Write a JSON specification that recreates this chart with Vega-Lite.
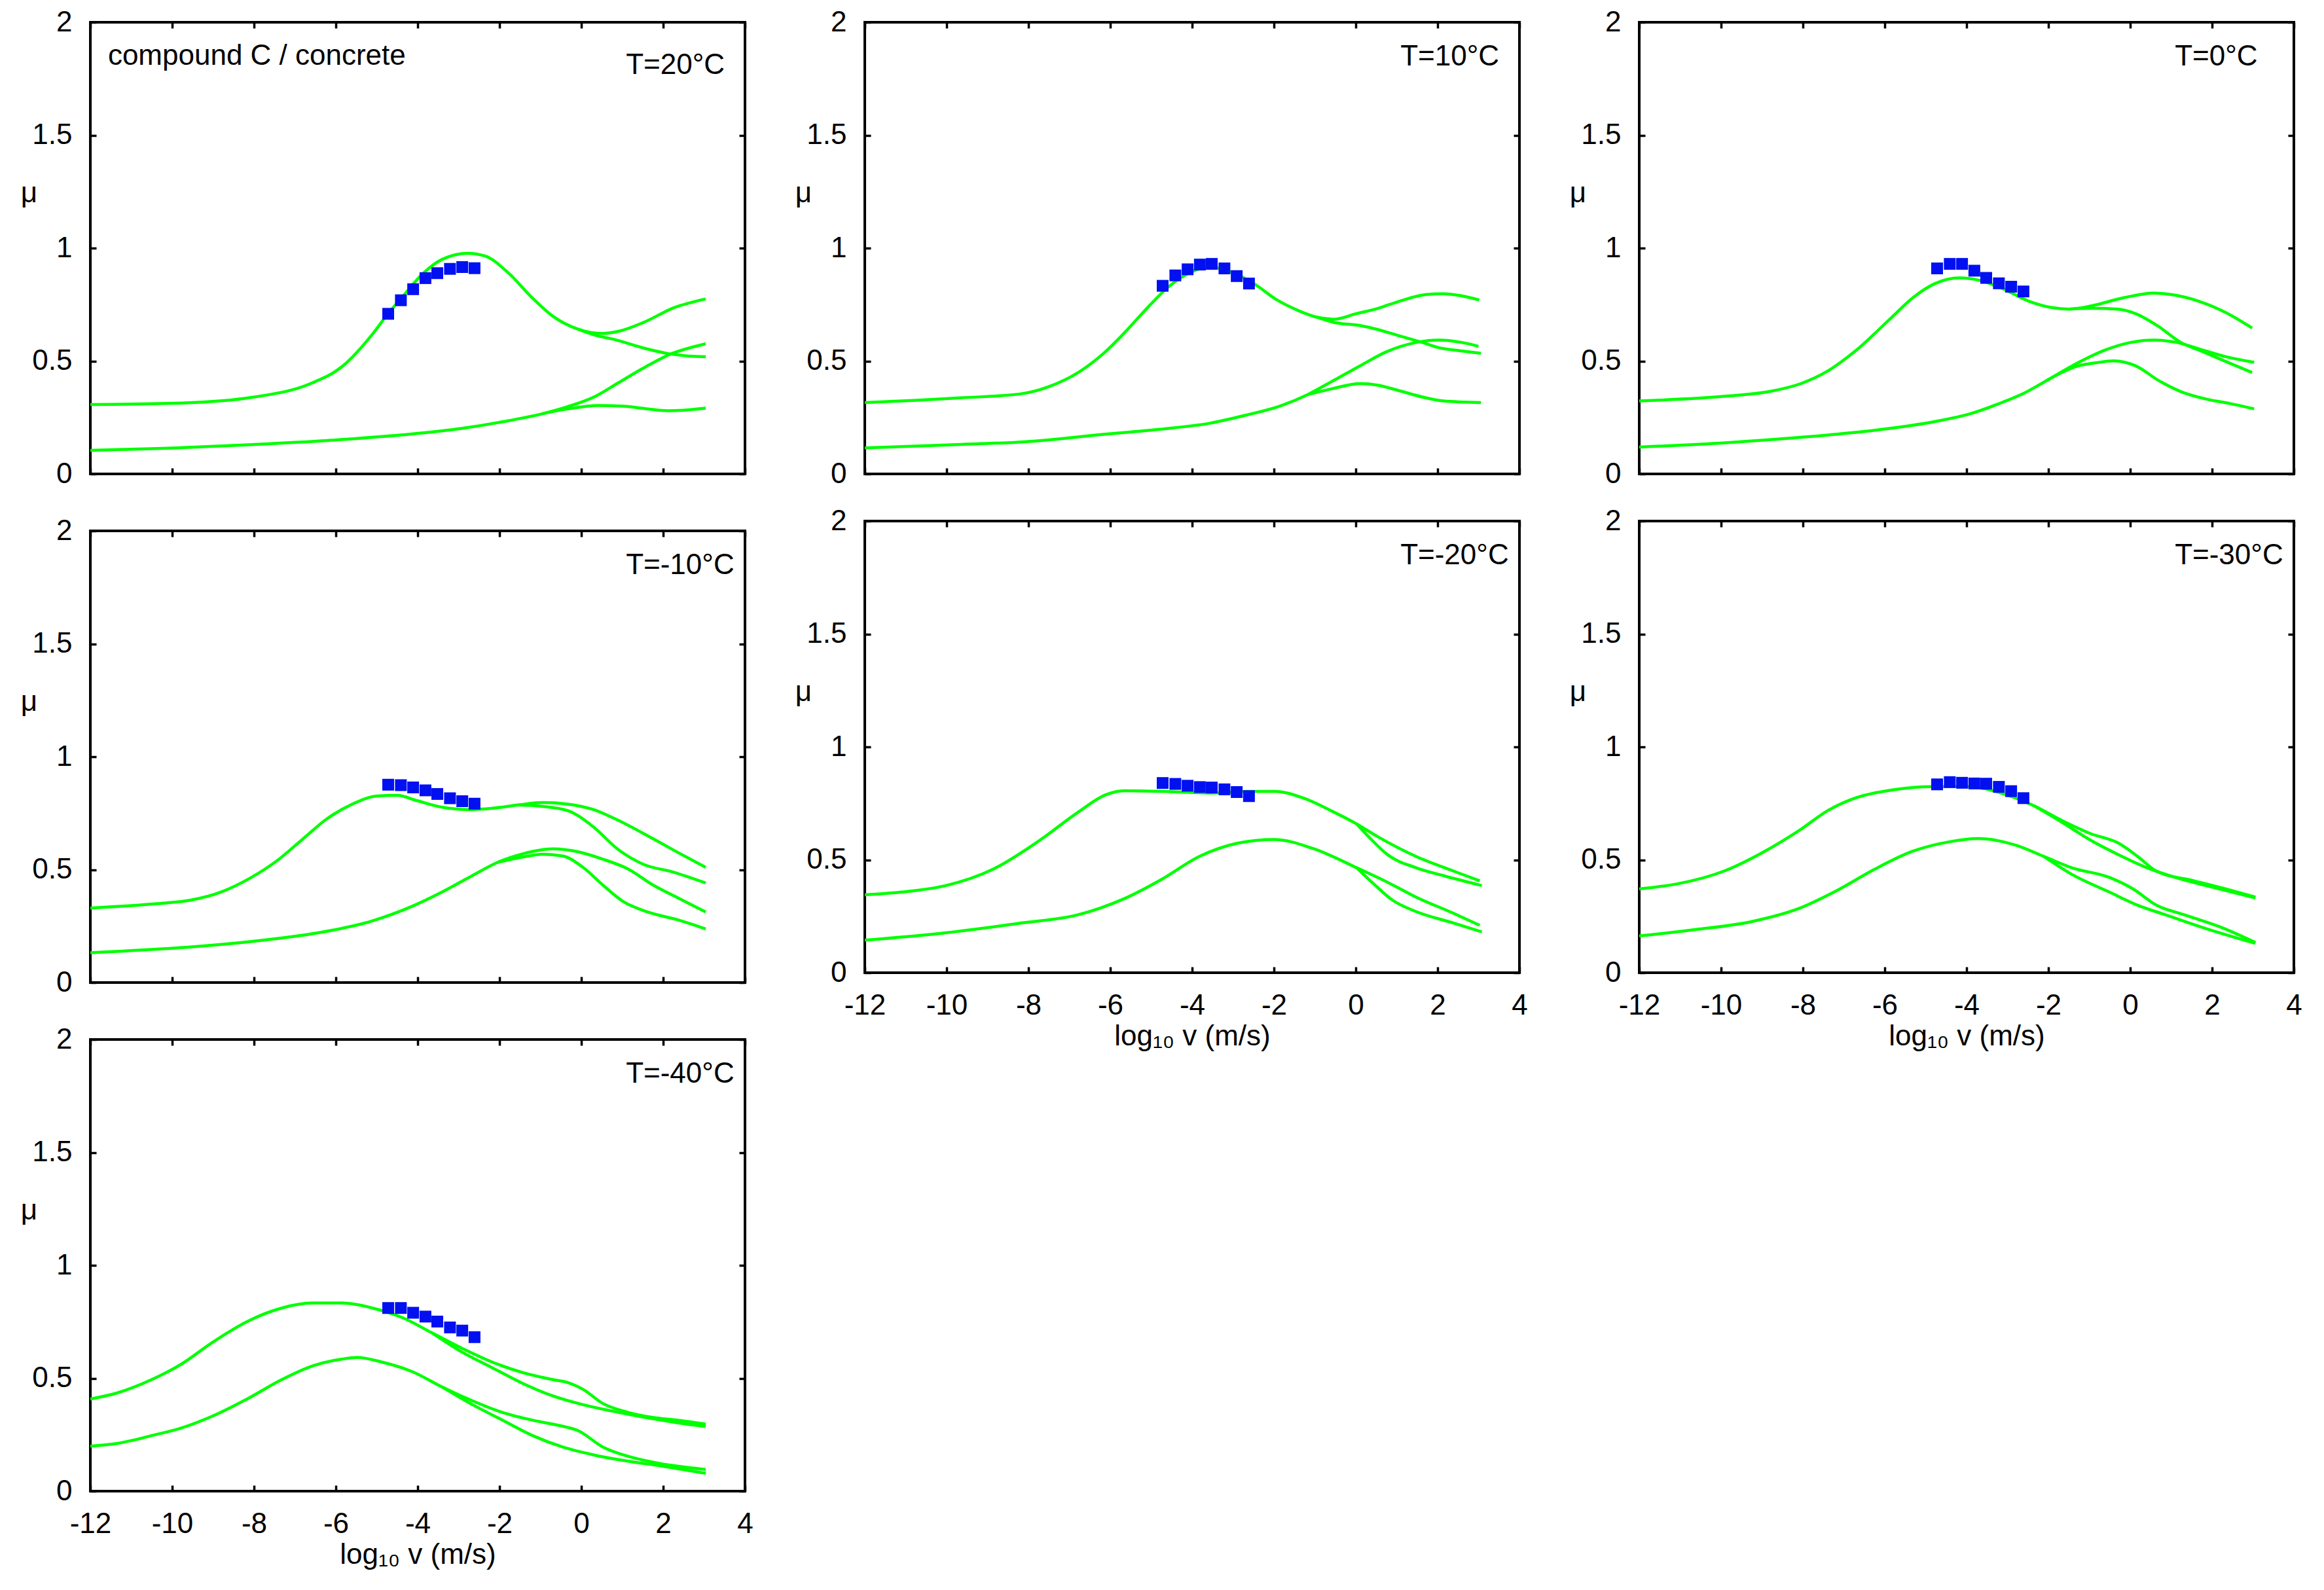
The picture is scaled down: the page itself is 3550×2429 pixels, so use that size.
{
  "$schema": "https://vega.github.io/schema/vega-lite/v6.json",
  "padding": {"left": 29, "top": 10, "right": 10, "bottom": 10},
  "background": "white",
  "datasets": {
    "curves": [
      {"T":"20","s":"a","x":-12,"y":0.307},{"T":"20","s":"a","x":-9.77,"y":0.314},{"T":"20","s":"a","x":-8.05,"y":0.339},{"T":"20","s":"a","x":-6.58,"y":0.403},{"T":"20","s":"a","x":-5.85,"y":0.475},{"T":"20","s":"a","x":-5.1,"y":0.62},{"T":"20","s":"a","x":-4.74,"y":0.706},{"T":"20","s":"a","x":-4.37,"y":0.785},{"T":"20","s":"a","x":-3.88,"y":0.886},{"T":"20","s":"a","x":-3.39,"y":0.951},{"T":"20","s":"a","x":-2.78,"y":0.977},{"T":"20","s":"a","x":-2.35,"y":0.965},{"T":"20","s":"a","x":-1.8,"y":0.893},{"T":"20","s":"a","x":-1.19,"y":0.778},{"T":"20","s":"a","x":-0.7,"y":0.699},{"T":"20","s":"a","x":-0.08,"y":0.641},{"T":"20","s":"a","x":0.53,"y":0.622},{"T":"20","s":"a","x":0.9,"y":0.631},{"T":"20","s":"a","x":1.51,"y":0.67},{"T":"20","s":"a","x":2.25,"y":0.735},{"T":"20","s":"a","x":3.04,"y":0.775},
      {"T":"20","s":"b","x":-0.08,"y":0.641},{"T":"20","s":"b","x":0.29,"y":0.617},{"T":"20","s":"b","x":0.9,"y":0.591},{"T":"20","s":"b","x":1.51,"y":0.558},{"T":"20","s":"b","x":2.12,"y":0.533},{"T":"20","s":"b","x":2.62,"y":0.522},{"T":"20","s":"b","x":3.04,"y":0.519},
      {"T":"20","s":"c","x":-12,"y":0.104},{"T":"20","s":"c","x":-9.9,"y":0.115},{"T":"20","s":"c","x":-8.05,"y":0.13},{"T":"20","s":"c","x":-6.21,"y":0.148},{"T":"20","s":"c","x":-4.37,"y":0.173},{"T":"20","s":"c","x":-2.9,"y":0.202},{"T":"20","s":"c","x":-1.92,"y":0.231},{"T":"20","s":"c","x":-0.94,"y":0.267},{"T":"20","s":"c","x":-0.33,"y":0.298},{"T":"20","s":"c","x":0.29,"y":0.339},{"T":"20","s":"c","x":0.9,"y":0.403},{"T":"20","s":"c","x":1.51,"y":0.468},{"T":"20","s":"c","x":2.12,"y":0.526},{"T":"20","s":"c","x":3.04,"y":0.576},
      {"T":"20","s":"d","x":-0.94,"y":0.267},{"T":"20","s":"d","x":-0.33,"y":0.288},{"T":"20","s":"d","x":0.41,"y":0.303},{"T":"20","s":"d","x":1.02,"y":0.3},{"T":"20","s":"d","x":1.63,"y":0.288},{"T":"20","s":"d","x":2.12,"y":0.28},{"T":"20","s":"d","x":2.49,"y":0.282},{"T":"20","s":"d","x":3.04,"y":0.291},

      {"T":"10","s":"a","x":-12,"y":0.316},{"T":"10","s":"a","x":-10.73,"y":0.326},{"T":"10","s":"a","x":-9.66,"y":0.337},{"T":"10","s":"a","x":-8.21,"y":0.354},{"T":"10","s":"a","x":-7.51,"y":0.386},{"T":"10","s":"a","x":-6.76,"y":0.452},{"T":"10","s":"a","x":-6.12,"y":0.541},{"T":"10","s":"a","x":-5.69,"y":0.618},{"T":"10","s":"a","x":-5.05,"y":0.744},{"T":"10","s":"a","x":-4.62,"y":0.822},{"T":"10","s":"a","x":-4.19,"y":0.878},{"T":"10","s":"a","x":-3.76,"y":0.91},{"T":"10","s":"a","x":-3.44,"y":0.913},{"T":"10","s":"a","x":-3.01,"y":0.892},{"T":"10","s":"a","x":-2.47,"y":0.84},{"T":"10","s":"a","x":-1.94,"y":0.772},{"T":"10","s":"a","x":-1.4,"y":0.723},{"T":"10","s":"a","x":-0.97,"y":0.695},{"T":"10","s":"a","x":-0.54,"y":0.685},{"T":"10","s":"a","x":0,"y":0.709},{"T":"10","s":"a","x":0.54,"y":0.733},{"T":"10","s":"a","x":1.07,"y":0.765},{"T":"10","s":"a","x":1.71,"y":0.794},{"T":"10","s":"a","x":2.14,"y":0.798},{"T":"10","s":"a","x":2.57,"y":0.789},{"T":"10","s":"a","x":3.02,"y":0.77},
      {"T":"10","s":"b","x":-0.97,"y":0.695},{"T":"10","s":"b","x":-0.54,"y":0.671},{"T":"10","s":"b","x":0.1,"y":0.657},{"T":"10","s":"b","x":0.54,"y":0.639},{"T":"10","s":"b","x":1.07,"y":0.611},{"T":"10","s":"b","x":1.61,"y":0.583},{"T":"10","s":"b","x":2.03,"y":0.559},{"T":"10","s":"b","x":2.57,"y":0.545},{"T":"10","s":"b","x":3.06,"y":0.534},
      {"T":"10","s":"c","x":-12,"y":0.115},{"T":"10","s":"c","x":-9.88,"y":0.129},{"T":"10","s":"c","x":-8.05,"y":0.143},{"T":"10","s":"c","x":-6.12,"y":0.176},{"T":"10","s":"c","x":-4.83,"y":0.197},{"T":"10","s":"c","x":-3.55,"y":0.225},{"T":"10","s":"c","x":-2.69,"y":0.26},{"T":"10","s":"c","x":-1.83,"y":0.302},{"T":"10","s":"c","x":-1.18,"y":0.351},{"T":"10","s":"c","x":-0.54,"y":0.414},{"T":"10","s":"c","x":0.1,"y":0.478},{"T":"10","s":"c","x":0.75,"y":0.541},{"T":"10","s":"c","x":1.5,"y":0.583},{"T":"10","s":"c","x":2.03,"y":0.593},{"T":"10","s":"c","x":2.57,"y":0.583},{"T":"10","s":"c","x":3.0,"y":0.565},
      {"T":"10","s":"d","x":-1.18,"y":0.351},{"T":"10","s":"d","x":-0.54,"y":0.379},{"T":"10","s":"d","x":0.1,"y":0.4},{"T":"10","s":"d","x":0.54,"y":0.393},{"T":"10","s":"d","x":1.07,"y":0.368},{"T":"10","s":"d","x":1.71,"y":0.337},{"T":"10","s":"d","x":2.14,"y":0.323},{"T":"10","s":"d","x":3.06,"y":0.316},

      {"T":"0","s":"a","x":-12,"y":0.323},{"T":"0","s":"a","x":-9.9,"y":0.344},{"T":"0","s":"a","x":-8.81,"y":0.365},{"T":"0","s":"a","x":-8.05,"y":0.4},{"T":"0","s":"a","x":-7.39,"y":0.456},{"T":"0","s":"a","x":-6.74,"y":0.541},{"T":"0","s":"a","x":-5.86,"y":0.688},{"T":"0","s":"a","x":-5.32,"y":0.779},{"T":"0","s":"a","x":-4.77,"y":0.843},{"T":"0","s":"a","x":-4.17,"y":0.868},{"T":"0","s":"a","x":-3.68,"y":0.857},{"T":"0","s":"a","x":-3.14,"y":0.822},{"T":"0","s":"a","x":-2.48,"y":0.765},{"T":"0","s":"a","x":-1.93,"y":0.737},{"T":"0","s":"a","x":-1.5,"y":0.73},{"T":"0","s":"a","x":-0.95,"y":0.744},{"T":"0","s":"a","x":-0.19,"y":0.779},{"T":"0","s":"a","x":0.58,"y":0.801},{"T":"0","s":"a","x":1.01,"y":0.794},{"T":"0","s":"a","x":1.67,"y":0.765},{"T":"0","s":"a","x":2.32,"y":0.716},{"T":"0","s":"a","x":2.98,"y":0.646},
      {"T":"0","s":"b","x":-1.5,"y":0.73},{"T":"0","s":"b","x":-0.95,"y":0.733},{"T":"0","s":"b","x":-0.3,"y":0.73},{"T":"0","s":"b","x":0.14,"y":0.709},{"T":"0","s":"b","x":0.69,"y":0.653},{"T":"0","s":"b","x":1.23,"y":0.583},{"T":"0","s":"b","x":1.78,"y":0.541},{"T":"0","s":"b","x":2.32,"y":0.499},{"T":"0","s":"b","x":2.98,"y":0.449},
      {"T":"0","s":"c","x":-12,"y":0.119},{"T":"0","s":"c","x":-9.9,"y":0.138},{"T":"0","s":"c","x":-8.05,"y":0.162},{"T":"0","s":"c","x":-6.08,"y":0.197},{"T":"0","s":"c","x":-4.77,"y":0.232},{"T":"0","s":"c","x":-3.9,"y":0.267},{"T":"0","s":"c","x":-3.14,"y":0.316},{"T":"0","s":"c","x":-2.59,"y":0.358},{"T":"0","s":"c","x":-2.04,"y":0.414},{"T":"0","s":"c","x":-1.28,"y":0.492},{"T":"0","s":"c","x":-0.62,"y":0.548},{"T":"0","s":"c","x":0.03,"y":0.583},{"T":"0","s":"c","x":0.58,"y":0.593},{"T":"0","s":"c","x":1.12,"y":0.583},{"T":"0","s":"c","x":1.78,"y":0.548},{"T":"0","s":"c","x":2.32,"y":0.52},{"T":"0","s":"c","x":3.03,"y":0.494},
      {"T":"0","s":"d","x":-2.04,"y":0.414},{"T":"0","s":"d","x":-1.28,"y":0.478},{"T":"0","s":"d","x":-0.84,"y":0.492},{"T":"0","s":"d","x":-0.41,"y":0.501},{"T":"0","s":"d","x":0.14,"y":0.478},{"T":"0","s":"d","x":0.69,"y":0.414},{"T":"0","s":"d","x":1.23,"y":0.365},{"T":"0","s":"d","x":1.89,"y":0.33},{"T":"0","s":"d","x":2.43,"y":0.312},{"T":"0","s":"d","x":3.03,"y":0.288},

      {"T":"-10","s":"a","x":-12,"y":0.33},{"T":"-10","s":"a","x":-10.38,"y":0.349},{"T":"-10","s":"a","x":-9.52,"y":0.366},{"T":"-10","s":"a","x":-8.79,"y":0.402},{"T":"-10","s":"a","x":-8.05,"y":0.467},{"T":"-10","s":"a","x":-7.44,"y":0.539},{"T":"-10","s":"a","x":-6.83,"y":0.632},{"T":"-10","s":"a","x":-6.21,"y":0.726},{"T":"-10","s":"a","x":-5.6,"y":0.79},{"T":"-10","s":"a","x":-4.99,"y":0.826},{"T":"-10","s":"a","x":-4.5,"y":0.829},{"T":"-10","s":"a","x":-4.01,"y":0.805},{"T":"-10","s":"a","x":-3.39,"y":0.776},{"T":"-10","s":"a","x":-2.78,"y":0.766},{"T":"-10","s":"a","x":-2.17,"y":0.772},{"T":"-10","s":"a","x":-1.55,"y":0.786},{"T":"-10","s":"a","x":-0.94,"y":0.797},{"T":"-10","s":"a","x":-0.33,"y":0.79},{"T":"-10","s":"a","x":0.29,"y":0.766},{"T":"-10","s":"a","x":0.78,"y":0.729},{"T":"-10","s":"a","x":1.76,"y":0.636},{"T":"-10","s":"a","x":2.37,"y":0.575},{"T":"-10","s":"a","x":3.04,"y":0.51},
      {"T":"-10","s":"b","x":-1.55,"y":0.786},{"T":"-10","s":"b","x":-0.94,"y":0.78},{"T":"-10","s":"b","x":-0.33,"y":0.761},{"T":"-10","s":"b","x":0.29,"y":0.69},{"T":"-10","s":"b","x":0.9,"y":0.589},{"T":"-10","s":"b","x":1.51,"y":0.524},{"T":"-10","s":"b","x":2.25,"y":0.489},{"T":"-10","s":"b","x":3.04,"y":0.441},
      {"T":"-10","s":"c","x":-12,"y":0.132},{"T":"-10","s":"c","x":-9.52,"y":0.158},{"T":"-10","s":"c","x":-7.81,"y":0.187},{"T":"-10","s":"c","x":-6.34,"y":0.223},{"T":"-10","s":"c","x":-5.11,"y":0.273},{"T":"-10","s":"c","x":-4.13,"y":0.338},{"T":"-10","s":"c","x":-3.39,"y":0.402},{"T":"-10","s":"c","x":-2.66,"y":0.474},{"T":"-10","s":"c","x":-2.05,"y":0.532},{"T":"-10","s":"c","x":-1.43,"y":0.57},{"T":"-10","s":"c","x":-0.7,"y":0.592},{"T":"-10","s":"c","x":-0.08,"y":0.579},{"T":"-10","s":"c","x":0.53,"y":0.546},{"T":"-10","s":"c","x":1.14,"y":0.503},{"T":"-10","s":"c","x":1.76,"y":0.431},{"T":"-10","s":"c","x":2.37,"y":0.374},{"T":"-10","s":"c","x":3.04,"y":0.312},
      {"T":"-10","s":"d","x":-2.05,"y":0.532},{"T":"-10","s":"d","x":-1.43,"y":0.556},{"T":"-10","s":"d","x":-0.94,"y":0.568},{"T":"-10","s":"d","x":-0.45,"y":0.56},{"T":"-10","s":"d","x":0.04,"y":0.51},{"T":"-10","s":"d","x":0.53,"y":0.431},{"T":"-10","s":"d","x":1.02,"y":0.359},{"T":"-10","s":"d","x":1.63,"y":0.312},{"T":"-10","s":"d","x":2.37,"y":0.277},{"T":"-10","s":"d","x":3.04,"y":0.237},

      {"T":"-20","s":"a","x":-12,"y":0.345},{"T":"-20","s":"a","x":-10.94,"y":0.36},{"T":"-20","s":"a","x":-10.02,"y":0.386},{"T":"-20","s":"a","x":-8.87,"y":0.458},{"T":"-20","s":"a","x":-7.72,"y":0.587},{"T":"-20","s":"a","x":-6.8,"y":0.709},{"T":"-20","s":"a","x":-6.11,"y":0.788},{"T":"-20","s":"a","x":-5.66,"y":0.806},{"T":"-20","s":"a","x":-4.74,"y":0.803},{"T":"-20","s":"a","x":-3.59,"y":0.796},{"T":"-20","s":"a","x":-2.67,"y":0.803},{"T":"-20","s":"a","x":-1.98,"y":0.803},{"T":"-20","s":"a","x":-1.29,"y":0.774},{"T":"-20","s":"a","x":-0.6,"y":0.717},{"T":"-20","s":"a","x":0.02,"y":0.659},{"T":"-20","s":"a","x":0.55,"y":0.601},{"T":"-20","s":"a","x":1.47,"y":0.515},{"T":"-20","s":"a","x":2.39,"y":0.45},{"T":"-20","s":"a","x":3.03,"y":0.407},
      {"T":"-20","s":"b","x":0.02,"y":0.659},{"T":"-20","s":"b","x":0.32,"y":0.601},{"T":"-20","s":"b","x":0.78,"y":0.522},{"T":"-20","s":"b","x":1.47,"y":0.465},{"T":"-20","s":"b","x":2.16,"y":0.429},{"T":"-20","s":"b","x":3.08,"y":0.386},
      {"T":"-20","s":"c","x":-12,"y":0.144},{"T":"-20","s":"c","x":-10.02,"y":0.177},{"T":"-20","s":"c","x":-8.18,"y":0.22},{"T":"-20","s":"c","x":-6.8,"y":0.256},{"T":"-20","s":"c","x":-5.66,"y":0.328},{"T":"-20","s":"c","x":-4.74,"y":0.414},{"T":"-20","s":"c","x":-3.82,"y":0.515},{"T":"-20","s":"c","x":-2.9,"y":0.573},{"T":"-20","s":"c","x":-2.0,"y":0.59},{"T":"-20","s":"c","x":-1.06,"y":0.551},{"T":"-20","s":"c","x":0.02,"y":0.465},{"T":"-20","s":"c","x":0.78,"y":0.4},{"T":"-20","s":"c","x":1.47,"y":0.335},{"T":"-20","s":"c","x":2.39,"y":0.263},{"T":"-20","s":"c","x":3.03,"y":0.21},
      {"T":"-20","s":"d","x":0.02,"y":0.465},{"T":"-20","s":"d","x":0.44,"y":0.393},{"T":"-20","s":"d","x":0.9,"y":0.321},{"T":"-20","s":"d","x":1.47,"y":0.271},{"T":"-20","s":"d","x":2.39,"y":0.22},{"T":"-20","s":"d","x":3.08,"y":0.181},

      {"T":"-30","s":"a","x":-12,"y":0.371},{"T":"-30","s":"a","x":-11.08,"y":0.393},{"T":"-30","s":"a","x":-9.93,"y":0.45},{"T":"-30","s":"a","x":-9.01,"y":0.53},{"T":"-30","s":"a","x":-8.09,"y":0.63},{"T":"-30","s":"a","x":-7.4,"y":0.717},{"T":"-30","s":"a","x":-6.71,"y":0.774},{"T":"-30","s":"a","x":-5.79,"y":0.81},{"T":"-30","s":"a","x":-4.87,"y":0.824},{"T":"-30","s":"a","x":-3.95,"y":0.824},{"T":"-30","s":"a","x":-3.03,"y":0.788},{"T":"-30","s":"a","x":-2.34,"y":0.738},{"T":"-30","s":"a","x":-1.66,"y":0.673},{"T":"-30","s":"a","x":-0.97,"y":0.616},{"T":"-30","s":"a","x":-0.28,"y":0.573},{"T":"-30","s":"a","x":0.18,"y":0.515},{"T":"-30","s":"a","x":0.64,"y":0.45},{"T":"-30","s":"a","x":1.56,"y":0.407},{"T":"-30","s":"a","x":2.48,"y":0.364},{"T":"-30","s":"a","x":3.06,"y":0.335},
      {"T":"-30","s":"b","x":-2.34,"y":0.738},{"T":"-30","s":"b","x":-1.66,"y":0.665},{"T":"-30","s":"b","x":-0.97,"y":0.587},{"T":"-30","s":"b","x":-0.28,"y":0.522},{"T":"-30","s":"b","x":0.41,"y":0.465},{"T":"-30","s":"b","x":1.1,"y":0.422},{"T":"-30","s":"b","x":2.02,"y":0.378},{"T":"-30","s":"b","x":3.06,"y":0.331},
      {"T":"-30","s":"c","x":-12,"y":0.163},{"T":"-30","s":"c","x":-10.62,"y":0.191},{"T":"-30","s":"c","x":-9.24,"y":0.227},{"T":"-30","s":"c","x":-8.09,"y":0.285},{"T":"-30","s":"c","x":-7.17,"y":0.364},{"T":"-30","s":"c","x":-6.25,"y":0.458},{"T":"-30","s":"c","x":-5.33,"y":0.537},{"T":"-30","s":"c","x":-4.41,"y":0.58},{"T":"-30","s":"c","x":-3.72,"y":0.594},{"T":"-30","s":"c","x":-2.8,"y":0.565},{"T":"-30","s":"c","x":-2.11,"y":0.515},{"T":"-30","s":"c","x":-1.43,"y":0.465},{"T":"-30","s":"c","x":-0.51,"y":0.422},{"T":"-30","s":"c","x":0.07,"y":0.371},{"T":"-30","s":"c","x":0.64,"y":0.299},{"T":"-30","s":"c","x":1.33,"y":0.256},{"T":"-30","s":"c","x":2.25,"y":0.199},{"T":"-30","s":"c","x":3.06,"y":0.134},
      {"T":"-30","s":"d","x":-2.11,"y":0.515},{"T":"-30","s":"d","x":-1.43,"y":0.436},{"T":"-30","s":"d","x":-0.51,"y":0.357},{"T":"-30","s":"d","x":0.18,"y":0.299},{"T":"-30","s":"d","x":0.87,"y":0.256},{"T":"-30","s":"d","x":1.79,"y":0.199},{"T":"-30","s":"d","x":3.06,"y":0.13},

      {"T":"-40","s":"a","x":-12,"y":0.408},{"T":"-40","s":"a","x":-11.36,"y":0.434},{"T":"-40","s":"a","x":-10.5,"y":0.494},{"T":"-40","s":"a","x":-9.77,"y":0.563},{"T":"-40","s":"a","x":-9.03,"y":0.657},{"T":"-40","s":"a","x":-8.17,"y":0.751},{"T":"-40","s":"a","x":-7.32,"y":0.811},{"T":"-40","s":"a","x":-6.58,"y":0.833},{"T":"-40","s":"a","x":-5.85,"y":0.833},{"T":"-40","s":"a","x":-5.11,"y":0.811},{"T":"-40","s":"a","x":-4.37,"y":0.768},{"T":"-40","s":"a","x":-3.64,"y":0.7},{"T":"-40","s":"a","x":-2.9,"y":0.631},{"T":"-40","s":"a","x":-2.17,"y":0.571},{"T":"-40","s":"a","x":-1.43,"y":0.525},{"T":"-40","s":"a","x":-0.7,"y":0.494},{"T":"-40","s":"a","x":-0.33,"y":0.481},{"T":"-40","s":"a","x":0.04,"y":0.451},{"T":"-40","s":"a","x":0.53,"y":0.388},{"T":"-40","s":"a","x":1.14,"y":0.349},{"T":"-40","s":"a","x":1.76,"y":0.326},{"T":"-40","s":"a","x":2.37,"y":0.314},{"T":"-40","s":"a","x":3.04,"y":0.297},
      {"T":"-40","s":"b","x":-3.64,"y":0.7},{"T":"-40","s":"b","x":-2.9,"y":0.614},{"T":"-40","s":"b","x":-2.17,"y":0.546},{"T":"-40","s":"b","x":-1.43,"y":0.477},{"T":"-40","s":"b","x":-0.7,"y":0.422},{"T":"-40","s":"b","x":0.04,"y":0.383},{"T":"-40","s":"b","x":0.77,"y":0.354},{"T":"-40","s":"b","x":1.51,"y":0.328},{"T":"-40","s":"b","x":2.25,"y":0.306},{"T":"-40","s":"b","x":3.04,"y":0.286},
      {"T":"-40","s":"c","x":-12,"y":0.199},{"T":"-40","s":"c","x":-11.36,"y":0.211},{"T":"-40","s":"c","x":-10.5,"y":0.246},{"T":"-40","s":"c","x":-9.77,"y":0.28},{"T":"-40","s":"c","x":-9.03,"y":0.331},{"T":"-40","s":"c","x":-8.17,"y":0.408},{"T":"-40","s":"c","x":-7.32,"y":0.494},{"T":"-40","s":"c","x":-6.58,"y":0.554},{"T":"-40","s":"c","x":-5.85,"y":0.585},{"T":"-40","s":"c","x":-5.48,"y":0.592},{"T":"-40","s":"c","x":-4.86,"y":0.571},{"T":"-40","s":"c","x":-4.13,"y":0.529},{"T":"-40","s":"c","x":-3.39,"y":0.46},{"T":"-40","s":"c","x":-2.66,"y":0.4},{"T":"-40","s":"c","x":-1.92,"y":0.348},{"T":"-40","s":"c","x":-1.19,"y":0.314},{"T":"-40","s":"c","x":-0.57,"y":0.292},{"T":"-40","s":"c","x":-0.08,"y":0.268},{"T":"-40","s":"c","x":0.53,"y":0.195},{"T":"-40","s":"c","x":1.27,"y":0.148},{"T":"-40","s":"c","x":2.0,"y":0.12},{"T":"-40","s":"c","x":3.04,"y":0.096},
      {"T":"-40","s":"d","x":-3.39,"y":0.46},{"T":"-40","s":"d","x":-2.66,"y":0.383},{"T":"-40","s":"d","x":-1.92,"y":0.314},{"T":"-40","s":"d","x":-1.19,"y":0.246},{"T":"-40","s":"d","x":-0.45,"y":0.195},{"T":"-40","s":"d","x":0.29,"y":0.161},{"T":"-40","s":"d","x":1.02,"y":0.136},{"T":"-40","s":"d","x":2.0,"y":0.11},{"T":"-40","s":"d","x":3.04,"y":0.079}
    ],
    "pts": [
      {"T":"20","x":-4.72,"y":0.709},{"T":"20","x":-4.41,"y":0.769},{"T":"20","x":-4.11,"y":0.818},{"T":"20","x":-3.81,"y":0.867},{"T":"20","x":-3.52,"y":0.889},{"T":"20","x":-3.21,"y":0.908},{"T":"20","x":-2.91,"y":0.916},{"T":"20","x":-2.61,"y":0.911},
      {"T":"10","x":-4.72,"y":0.833},{"T":"10","x":-4.41,"y":0.879},{"T":"10","x":-4.11,"y":0.906},{"T":"10","x":-3.81,"y":0.927},{"T":"10","x":-3.52,"y":0.93},{"T":"10","x":-3.21,"y":0.91},{"T":"10","x":-2.91,"y":0.876},{"T":"10","x":-2.61,"y":0.843},
      {"T":"0","x":-4.72,"y":0.91},{"T":"0","x":-4.41,"y":0.93},{"T":"0","x":-4.11,"y":0.93},{"T":"0","x":-3.81,"y":0.9},{"T":"0","x":-3.52,"y":0.868},{"T":"0","x":-3.21,"y":0.844},{"T":"0","x":-2.91,"y":0.829},{"T":"0","x":-2.61,"y":0.808},
      {"T":"-10","x":-4.72,"y":0.876},{"T":"-10","x":-4.41,"y":0.874},{"T":"-10","x":-4.11,"y":0.864},{"T":"-10","x":-3.81,"y":0.851},{"T":"-10","x":-3.52,"y":0.835},{"T":"-10","x":-3.21,"y":0.816},{"T":"-10","x":-2.91,"y":0.803},{"T":"-10","x":-2.61,"y":0.792},
      {"T":"-20","x":-4.72,"y":0.84},{"T":"-20","x":-4.41,"y":0.836},{"T":"-20","x":-4.11,"y":0.828},{"T":"-20","x":-3.81,"y":0.822},{"T":"-20","x":-3.52,"y":0.82},{"T":"-20","x":-3.21,"y":0.812},{"T":"-20","x":-2.91,"y":0.8},{"T":"-20","x":-2.61,"y":0.782},
      {"T":"-30","x":-4.72,"y":0.834},{"T":"-30","x":-4.41,"y":0.844},{"T":"-30","x":-4.11,"y":0.841},{"T":"-30","x":-3.81,"y":0.838},{"T":"-30","x":-3.52,"y":0.837},{"T":"-30","x":-3.21,"y":0.823},{"T":"-30","x":-2.91,"y":0.804},{"T":"-30","x":-2.61,"y":0.773},
      {"T":"-40","x":-4.72,"y":0.811},{"T":"-40","x":-4.41,"y":0.811},{"T":"-40","x":-4.11,"y":0.79},{"T":"-40","x":-3.81,"y":0.773},{"T":"-40","x":-3.52,"y":0.751},{"T":"-40","x":-3.21,"y":0.725},{"T":"-40","x":-2.91,"y":0.711},{"T":"-40","x":-2.61,"y":0.682}
    ],
    "labels": [
      {"T":"20","x":1.09,"y":1.772,"txt":"T=20°C"},
      {"T":"20","x":-11.57,"y":1.812,"txt":"compound C / concrete"},
      {"T":"10","x":1.09,"y":1.81,"txt":"T=10°C"},
      {"T":"0","x":1.09,"y":1.81,"txt":"T=0°C"},
      {"T":"-10","x":1.09,"y":1.81,"txt":"T=-10°C"},
      {"T":"-20","x":1.09,"y":1.81,"txt":"T=-20°C"},
      {"T":"-30","x":1.09,"y":1.81,"txt":"T=-30°C"},
      {"T":"-40","x":1.09,"y":1.81,"txt":"T=-40°C"}
    ]
  },
  "hconcat": [
    {
      "spacing": 87,
      "bounds": "flush",
      "vconcat": [
        {
          "width": 1000, "height": 690,
          "resolve": {"axis": {"x": "independent", "y": "independent"}},
          "layer": [
            {"data": {"name": "curves"}, "transform": [{"filter": "datum.T == '20'"}],
             "mark": {"type": "line", "color": "#00ff00", "strokeWidth": 4.5, "interpolate": "monotone"},
             "encoding": {
               "x": {"field": "x", "type": "quantitative", "scale": {"domain": [-12, 4], "nice": false}, "axis": {"values": [-12,-10,-8,-6,-4,-2,0,2,4], "labels": false, "title": null}},
               "y": {"field": "y", "type": "quantitative", "scale": {"domain": [0, 2], "nice": false}, "axis": {"values": [0,0.5,1,1.5,2], "labelExpr": "'' + datum.value", "title": "μ", "titleAngle": 0, "titleX": -94, "titleY": 274, "titleAlign": "center", "titleBaseline": "alphabetic"}},
               "detail": {"field": "s"}}},
            {"data": {"name": "pts"}, "transform": [{"filter": "datum.T == '20'"}],
             "mark": {"type": "square", "color": "#0010f0", "opacity": 1, "filled": true, "size": 324},
             "encoding": {
               "x": {"field": "x", "type": "quantitative", "axis": {"orient": "top", "values": [-12,-10,-8,-6,-4,-2,0,2,4], "labels": false, "title": null}},
               "y": {"field": "y", "type": "quantitative", "axis": {"orient": "right", "values": [0,0.5,1,1.5,2], "labels": false, "title": null}}}},
            {"data": {"name": "labels"}, "transform": [{"filter": "datum.T == '20'"}],
             "mark": {"type": "text", "align": "left", "baseline": "alphabetic", "fontSize": 44, "font": "Liberation Sans", "color": "black"},
             "encoding": {
               "x": {"field": "x", "type": "quantitative", "axis": null},
               "y": {"field": "y", "type": "quantitative", "axis": null},
               "text": {"field": "txt"}}}
          ]
        },
        {
          "width": 1000, "height": 690,
          "resolve": {"axis": {"x": "independent", "y": "independent"}},
          "layer": [
            {"data": {"name": "curves"}, "transform": [{"filter": "datum.T == '-10'"}],
             "mark": {"type": "line", "color": "#00ff00", "strokeWidth": 4.5, "interpolate": "monotone"},
             "encoding": {
               "x": {"field": "x", "type": "quantitative", "scale": {"domain": [-12, 4], "nice": false}, "axis": {"values": [-12,-10,-8,-6,-4,-2,0,2,4], "labels": false, "title": null}},
               "y": {"field": "y", "type": "quantitative", "scale": {"domain": [0, 2], "nice": false}, "axis": {"values": [0,0.5,1,1.5,2], "labelExpr": "'' + datum.value", "title": "μ", "titleAngle": 0, "titleX": -94, "titleY": 274, "titleAlign": "center", "titleBaseline": "alphabetic"}},
               "detail": {"field": "s"}}},
            {"data": {"name": "pts"}, "transform": [{"filter": "datum.T == '-10'"}],
             "mark": {"type": "square", "color": "#0010f0", "opacity": 1, "filled": true, "size": 324},
             "encoding": {
               "x": {"field": "x", "type": "quantitative", "axis": {"orient": "top", "values": [-12,-10,-8,-6,-4,-2,0,2,4], "labels": false, "title": null}},
               "y": {"field": "y", "type": "quantitative", "axis": {"orient": "right", "values": [0,0.5,1,1.5,2], "labels": false, "title": null}}}},
            {"data": {"name": "labels"}, "transform": [{"filter": "datum.T == '-10'"}],
             "mark": {"type": "text", "align": "left", "baseline": "alphabetic", "fontSize": 44, "font": "Liberation Sans", "color": "black"},
             "encoding": {
               "x": {"field": "x", "type": "quantitative", "axis": null},
               "y": {"field": "y", "type": "quantitative", "axis": null},
               "text": {"field": "txt"}}}
          ]
        },
        {
          "width": 1000, "height": 690,
          "resolve": {"axis": {"x": "independent", "y": "independent"}},
          "layer": [
            {"data": {"name": "curves"}, "transform": [{"filter": "datum.T == '-40'"}],
             "mark": {"type": "line", "color": "#00ff00", "strokeWidth": 4.5, "interpolate": "monotone"},
             "encoding": {
               "x": {"field": "x", "type": "quantitative", "scale": {"domain": [-12, 4], "nice": false}, "axis": {"values": [-12,-10,-8,-6,-4,-2,0,2,4], "labelExpr": "'' + datum.value", "labelFlush": false, "labelOverlap": false, "title": "log₁₀ v (m/s)", "titleY": 110, "titleBaseline": "alphabetic"}},
               "y": {"field": "y", "type": "quantitative", "scale": {"domain": [0, 2], "nice": false}, "axis": {"values": [0,0.5,1,1.5,2], "labelExpr": "'' + datum.value", "title": "μ", "titleAngle": 0, "titleX": -94, "titleY": 274, "titleAlign": "center", "titleBaseline": "alphabetic"}},
               "detail": {"field": "s"}}},
            {"data": {"name": "pts"}, "transform": [{"filter": "datum.T == '-40'"}],
             "mark": {"type": "square", "color": "#0010f0", "opacity": 1, "filled": true, "size": 324},
             "encoding": {
               "x": {"field": "x", "type": "quantitative", "axis": {"orient": "top", "values": [-12,-10,-8,-6,-4,-2,0,2,4], "labels": false, "title": null}},
               "y": {"field": "y", "type": "quantitative", "axis": {"orient": "right", "values": [0,0.5,1,1.5,2], "labels": false, "title": null}}}},
            {"data": {"name": "labels"}, "transform": [{"filter": "datum.T == '-40'"}],
             "mark": {"type": "text", "align": "left", "baseline": "alphabetic", "fontSize": 44, "font": "Liberation Sans", "color": "black"},
             "encoding": {
               "x": {"field": "x", "type": "quantitative", "axis": null},
               "y": {"field": "y", "type": "quantitative", "axis": null},
               "text": {"field": "txt"}}}
          ]
        }
      ]
    },
    {
      "spacing": 72,
      "bounds": "flush",
      "vconcat": [
        {
          "width": 1000, "height": 690,
          "resolve": {"axis": {"x": "independent", "y": "independent"}},
          "layer": [
            {"data": {"name": "curves"}, "transform": [{"filter": "datum.T == '10'"}],
             "mark": {"type": "line", "color": "#00ff00", "strokeWidth": 4.5, "interpolate": "monotone"},
             "encoding": {
               "x": {"field": "x", "type": "quantitative", "scale": {"domain": [-12, 4], "nice": false}, "axis": {"values": [-12,-10,-8,-6,-4,-2,0,2,4], "labels": false, "title": null}},
               "y": {"field": "y", "type": "quantitative", "scale": {"domain": [0, 2], "nice": false}, "axis": {"values": [0,0.5,1,1.5,2], "labelExpr": "'' + datum.value", "title": "μ", "titleAngle": 0, "titleX": -94, "titleY": 274, "titleAlign": "center", "titleBaseline": "alphabetic"}},
               "detail": {"field": "s"}}},
            {"data": {"name": "pts"}, "transform": [{"filter": "datum.T == '10'"}],
             "mark": {"type": "square", "color": "#0010f0", "opacity": 1, "filled": true, "size": 324},
             "encoding": {
               "x": {"field": "x", "type": "quantitative", "axis": {"orient": "top", "values": [-12,-10,-8,-6,-4,-2,0,2,4], "labels": false, "title": null}},
               "y": {"field": "y", "type": "quantitative", "axis": {"orient": "right", "values": [0,0.5,1,1.5,2], "labels": false, "title": null}}}},
            {"data": {"name": "labels"}, "transform": [{"filter": "datum.T == '10'"}],
             "mark": {"type": "text", "align": "left", "baseline": "alphabetic", "fontSize": 44, "font": "Liberation Sans", "color": "black"},
             "encoding": {
               "x": {"field": "x", "type": "quantitative", "axis": null},
               "y": {"field": "y", "type": "quantitative", "axis": null},
               "text": {"field": "txt"}}}
          ]
        },
        {
          "width": 1000, "height": 690,
          "resolve": {"axis": {"x": "independent", "y": "independent"}},
          "layer": [
            {"data": {"name": "curves"}, "transform": [{"filter": "datum.T == '-20'"}],
             "mark": {"type": "line", "color": "#00ff00", "strokeWidth": 4.5, "interpolate": "monotone"},
             "encoding": {
               "x": {"field": "x", "type": "quantitative", "scale": {"domain": [-12, 4], "nice": false}, "axis": {"values": [-12,-10,-8,-6,-4,-2,0,2,4], "labelExpr": "'' + datum.value", "labelFlush": false, "labelOverlap": false, "title": "log₁₀ v (m/s)", "titleY": 110, "titleBaseline": "alphabetic"}},
               "y": {"field": "y", "type": "quantitative", "scale": {"domain": [0, 2], "nice": false}, "axis": {"values": [0,0.5,1,1.5,2], "labelExpr": "'' + datum.value", "title": "μ", "titleAngle": 0, "titleX": -94, "titleY": 274, "titleAlign": "center", "titleBaseline": "alphabetic"}},
               "detail": {"field": "s"}}},
            {"data": {"name": "pts"}, "transform": [{"filter": "datum.T == '-20'"}],
             "mark": {"type": "square", "color": "#0010f0", "opacity": 1, "filled": true, "size": 324},
             "encoding": {
               "x": {"field": "x", "type": "quantitative", "axis": {"orient": "top", "values": [-12,-10,-8,-6,-4,-2,0,2,4], "labels": false, "title": null}},
               "y": {"field": "y", "type": "quantitative", "axis": {"orient": "right", "values": [0,0.5,1,1.5,2], "labels": false, "title": null}}}},
            {"data": {"name": "labels"}, "transform": [{"filter": "datum.T == '-20'"}],
             "mark": {"type": "text", "align": "left", "baseline": "alphabetic", "fontSize": 44, "font": "Liberation Sans", "color": "black"},
             "encoding": {
               "x": {"field": "x", "type": "quantitative", "axis": null},
               "y": {"field": "y", "type": "quantitative", "axis": null},
               "text": {"field": "txt"}}}
          ]
        }
      ]
    },
    {
      "spacing": 72,
      "bounds": "flush",
      "vconcat": [
        {
          "width": 1000, "height": 690,
          "resolve": {"axis": {"x": "independent", "y": "independent"}},
          "layer": [
            {"data": {"name": "curves"}, "transform": [{"filter": "datum.T == '0'"}],
             "mark": {"type": "line", "color": "#00ff00", "strokeWidth": 4.5, "interpolate": "monotone"},
             "encoding": {
               "x": {"field": "x", "type": "quantitative", "scale": {"domain": [-12, 4], "nice": false}, "axis": {"values": [-12,-10,-8,-6,-4,-2,0,2,4], "labels": false, "title": null}},
               "y": {"field": "y", "type": "quantitative", "scale": {"domain": [0, 2], "nice": false}, "axis": {"values": [0,0.5,1,1.5,2], "labelExpr": "'' + datum.value", "title": "μ", "titleAngle": 0, "titleX": -94, "titleY": 274, "titleAlign": "center", "titleBaseline": "alphabetic"}},
               "detail": {"field": "s"}}},
            {"data": {"name": "pts"}, "transform": [{"filter": "datum.T == '0'"}],
             "mark": {"type": "square", "color": "#0010f0", "opacity": 1, "filled": true, "size": 324},
             "encoding": {
               "x": {"field": "x", "type": "quantitative", "axis": {"orient": "top", "values": [-12,-10,-8,-6,-4,-2,0,2,4], "labels": false, "title": null}},
               "y": {"field": "y", "type": "quantitative", "axis": {"orient": "right", "values": [0,0.5,1,1.5,2], "labels": false, "title": null}}}},
            {"data": {"name": "labels"}, "transform": [{"filter": "datum.T == '0'"}],
             "mark": {"type": "text", "align": "left", "baseline": "alphabetic", "fontSize": 44, "font": "Liberation Sans", "color": "black"},
             "encoding": {
               "x": {"field": "x", "type": "quantitative", "axis": null},
               "y": {"field": "y", "type": "quantitative", "axis": null},
               "text": {"field": "txt"}}}
          ]
        },
        {
          "width": 1000, "height": 690,
          "resolve": {"axis": {"x": "independent", "y": "independent"}},
          "layer": [
            {"data": {"name": "curves"}, "transform": [{"filter": "datum.T == '-30'"}],
             "mark": {"type": "line", "color": "#00ff00", "strokeWidth": 4.5, "interpolate": "monotone"},
             "encoding": {
               "x": {"field": "x", "type": "quantitative", "scale": {"domain": [-12, 4], "nice": false}, "axis": {"values": [-12,-10,-8,-6,-4,-2,0,2,4], "labelExpr": "'' + datum.value", "labelFlush": false, "labelOverlap": false, "title": "log₁₀ v (m/s)", "titleY": 110, "titleBaseline": "alphabetic"}},
               "y": {"field": "y", "type": "quantitative", "scale": {"domain": [0, 2], "nice": false}, "axis": {"values": [0,0.5,1,1.5,2], "labelExpr": "'' + datum.value", "title": "μ", "titleAngle": 0, "titleX": -94, "titleY": 274, "titleAlign": "center", "titleBaseline": "alphabetic"}},
               "detail": {"field": "s"}}},
            {"data": {"name": "pts"}, "transform": [{"filter": "datum.T == '-30'"}],
             "mark": {"type": "square", "color": "#0010f0", "opacity": 1, "filled": true, "size": 324},
             "encoding": {
               "x": {"field": "x", "type": "quantitative", "axis": {"orient": "top", "values": [-12,-10,-8,-6,-4,-2,0,2,4], "labels": false, "title": null}},
               "y": {"field": "y", "type": "quantitative", "axis": {"orient": "right", "values": [0,0.5,1,1.5,2], "labels": false, "title": null}}}},
            {"data": {"name": "labels"}, "transform": [{"filter": "datum.T == '-30'"}],
             "mark": {"type": "text", "align": "left", "baseline": "alphabetic", "fontSize": 44, "font": "Liberation Sans", "color": "black"},
             "encoding": {
               "x": {"field": "x", "type": "quantitative", "axis": null},
               "y": {"field": "y", "type": "quantitative", "axis": null},
               "text": {"field": "txt"}}}
          ]
        }
      ]
    }
  ],
  "spacing": 59,
  "bounds": "full",
  "config": {
    "view": {"stroke": "black", "strokeWidth": 4},
    "axis": {
      "grid": false,
      "domain": false,
      "tickSize": -9,
      "tickWidth": 3.5,
      "tickColor": "black",
      "labelFont": "Liberation Sans",
      "labelFontSize": 44,
      "labelColor": "black",
      "labelPadding": 37,
      "titleFont": "Liberation Sans",
      "titleFontSize": 44,
      "titleFontWeight": "normal",
      "titleColor": "black"
    },
    "text": {"font": "Liberation Sans"}
  }
}
